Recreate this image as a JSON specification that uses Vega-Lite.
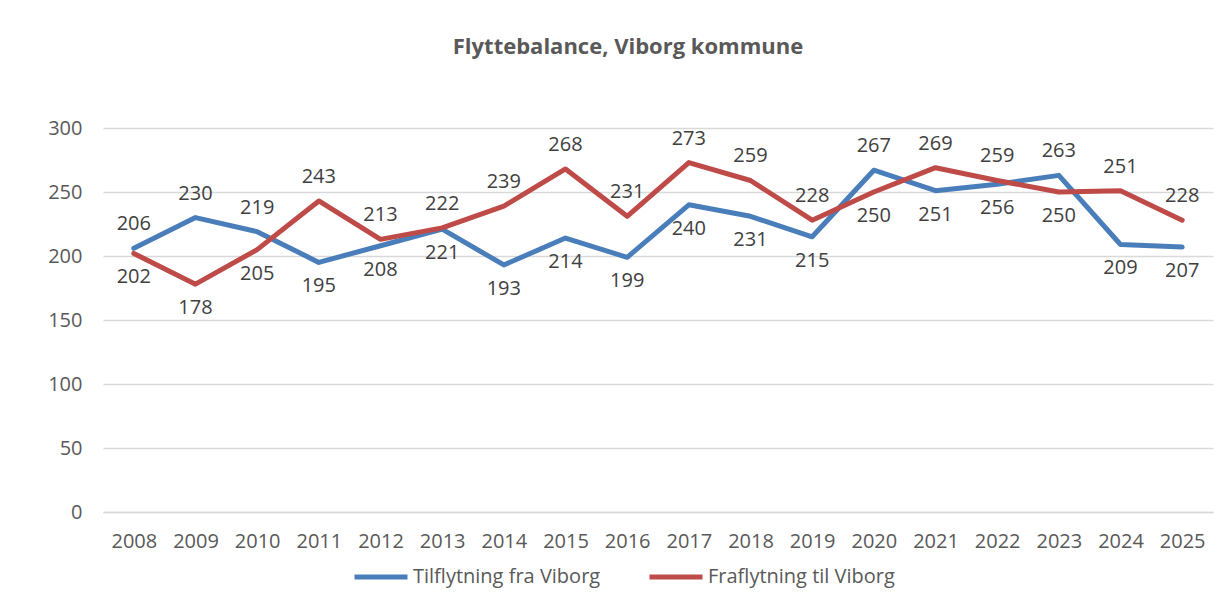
{
  "$schema": "https://vega.github.io/schema/vega-lite/v6.json",
  "width": 1110,
  "height": 384,
  "autosize": {"type": "none"},
  "padding": {"left": 103, "top": 128, "right": 19, "bottom": 93},
  "background": "white",
  "title": {
    "text": "Flyttebalance, Viborg kommune",
    "fontSize": 22,
    "fontWeight": "bold",
    "font": "Open Sans",
    "color": "#595959",
    "anchor": "middle",
    "frame": "group",
    "baseline": "alphabetic",
    "dx": -30,
    "offset": 42
  },
  "data": {
    "values": [
      {"year": "2008", "serie": "Tilflytning fra Viborg", "value": 206},
      {"year": "2009", "serie": "Tilflytning fra Viborg", "value": 230},
      {"year": "2010", "serie": "Tilflytning fra Viborg", "value": 219},
      {"year": "2011", "serie": "Tilflytning fra Viborg", "value": 195},
      {"year": "2012", "serie": "Tilflytning fra Viborg", "value": 208},
      {"year": "2013", "serie": "Tilflytning fra Viborg", "value": 221},
      {"year": "2014", "serie": "Tilflytning fra Viborg", "value": 193},
      {"year": "2015", "serie": "Tilflytning fra Viborg", "value": 214},
      {"year": "2016", "serie": "Tilflytning fra Viborg", "value": 199},
      {"year": "2017", "serie": "Tilflytning fra Viborg", "value": 240},
      {"year": "2018", "serie": "Tilflytning fra Viborg", "value": 231},
      {"year": "2019", "serie": "Tilflytning fra Viborg", "value": 215},
      {"year": "2020", "serie": "Tilflytning fra Viborg", "value": 267},
      {"year": "2021", "serie": "Tilflytning fra Viborg", "value": 251},
      {"year": "2022", "serie": "Tilflytning fra Viborg", "value": 256},
      {"year": "2023", "serie": "Tilflytning fra Viborg", "value": 263},
      {"year": "2024", "serie": "Tilflytning fra Viborg", "value": 209},
      {"year": "2025", "serie": "Tilflytning fra Viborg", "value": 207},
      {"year": "2008", "serie": "Fraflytning til Viborg", "value": 202},
      {"year": "2009", "serie": "Fraflytning til Viborg", "value": 178},
      {"year": "2010", "serie": "Fraflytning til Viborg", "value": 205},
      {"year": "2011", "serie": "Fraflytning til Viborg", "value": 243},
      {"year": "2012", "serie": "Fraflytning til Viborg", "value": 213},
      {"year": "2013", "serie": "Fraflytning til Viborg", "value": 222},
      {"year": "2014", "serie": "Fraflytning til Viborg", "value": 239},
      {"year": "2015", "serie": "Fraflytning til Viborg", "value": 268},
      {"year": "2016", "serie": "Fraflytning til Viborg", "value": 231},
      {"year": "2017", "serie": "Fraflytning til Viborg", "value": 273},
      {"year": "2018", "serie": "Fraflytning til Viborg", "value": 259},
      {"year": "2019", "serie": "Fraflytning til Viborg", "value": 228},
      {"year": "2020", "serie": "Fraflytning til Viborg", "value": 250},
      {"year": "2021", "serie": "Fraflytning til Viborg", "value": 269},
      {"year": "2022", "serie": "Fraflytning til Viborg", "value": 259},
      {"year": "2023", "serie": "Fraflytning til Viborg", "value": 250},
      {"year": "2024", "serie": "Fraflytning til Viborg", "value": 251},
      {"year": "2025", "serie": "Fraflytning til Viborg", "value": 228}
    ]
  },
  "encoding": {
    "x": {
      "field": "year",
      "type": "ordinal",
      "scale": {"type": "point", "padding": 0.5},
      "axis": {
        "title": null,
        "labelAngle": 0,
        "labelFont": "Open Sans",
        "labelFontSize": 20,
        "labelColor": "#595959",
        "labelPadding": 19,
        "ticks": false,
        "grid": false,
        "domainColor": "#d9d9d9",
        "domainWidth": 1.5
      }
    },
    "y": {
      "field": "value",
      "type": "quantitative",
      "scale": {"domain": [0, 300]},
      "axis": {
        "title": null,
        "values": [0, 50, 100, 150, 200, 250, 300],
        "labelFont": "Open Sans",
        "labelFontSize": 20,
        "labelColor": "#595959",
        "labelPadding": 21,
        "ticks": false,
        "domain": false,
        "gridColor": "#d9d9d9",
        "gridWidth": 1.5
      }
    }
  },
  "layer": [
    {
      "mark": {"type": "line", "strokeWidth": 5, "strokeCap": "round", "strokeJoin": "round"},
      "encoding": {
        "color": {
          "field": "serie",
          "type": "nominal",
          "scale": {
            "domain": ["Tilflytning fra Viborg", "Fraflytning til Viborg"],
            "range": ["#4a7ebb", "#be4b48"]
          },
          "legend": {
            "title": null,
            "orient": "none",
            "direction": "horizontal",
            "legendX": 249,
            "legendY": 420,
            "symbolType": "stroke",
            "symbolSize": 2809,
            "symbolStrokeWidth": 5,
            "labelFont": "Open Sans",
            "labelFontSize": 20,
            "labelColor": "#595959",
            "labelOffset": 3,
            "labelLimit": 0,
            "columnPadding": 38
          }
        }
      }
    },
    {
      "transform": [
        {"joinaggregate": [{"op": "max", "field": "value", "as": "maxv"}], "groupby": ["year"]},
        {"filter": "datum.value == datum.maxv"}
      ],
      "mark": {"type": "text", "dy": -24, "font": "Open Sans", "fontSize": 20, "color": "#404040", "baseline": "middle"},
      "encoding": {"text": {"field": "value", "type": "quantitative"}}
    },
    {
      "transform": [
        {"joinaggregate": [{"op": "max", "field": "value", "as": "maxv"}], "groupby": ["year"]},
        {"filter": "datum.value < datum.maxv"}
      ],
      "mark": {"type": "text", "dy": 24, "font": "Open Sans", "fontSize": 20, "color": "#404040", "baseline": "middle"},
      "encoding": {"text": {"field": "value", "type": "quantitative"}}
    }
  ],
  "config": {"view": {"stroke": null}}
}
